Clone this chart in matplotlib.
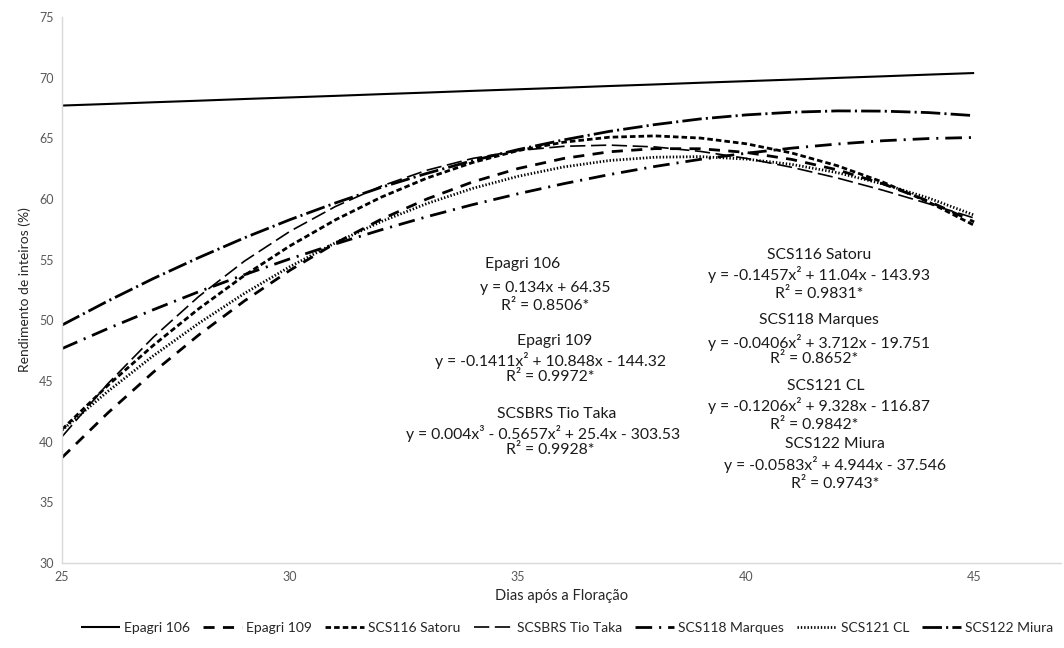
import numpy as np
import matplotlib
matplotlib.use("Agg")
import matplotlib.pyplot as plt

plt.rcParams['font.family'] = ['Lato', 'DejaVu Sans']
plt.rcParams['lines.scale_dashes'] = False

# dias após a floração
dias = [25, 26, 27, 28, 29, 30, 31, 32, 33, 34, 35,
        36, 37, 38, 39, 40, 41, 42, 43, 44, 45]

# rendimento de inteiros (%)
epagri106 = [67.70, 67.83, 67.97, 68.10, 68.24, 68.37, 68.50, 68.64, 68.77, 68.91, 69.04,
             69.17, 69.31, 69.44, 69.58, 69.71, 69.84, 69.98, 70.11, 70.25, 70.38]
epagri109 = [38.69, 42.35, 45.72, 48.80, 51.60, 54.13, 56.37, 58.33, 60.00, 61.40, 62.51,
             63.34, 63.89, 64.15, 64.14, 63.84, 63.26, 62.40, 61.25, 59.82, 58.11]
satoru = [41.01, 44.62, 47.93, 50.96, 53.70, 56.14, 58.29, 60.15, 61.72, 63.00, 63.99,
          64.68, 65.09, 65.20, 65.02, 64.55, 63.79, 62.74, 61.39, 59.75, 57.83]
tiotaka = [40.41, 44.76, 48.60, 51.97, 54.88, 57.34, 59.39, 61.06, 62.37, 63.34, 63.99,
           64.34, 64.44, 64.29, 63.92, 63.35, 62.61, 61.73, 60.72, 59.61, 58.43]
marques = [47.67, 49.31, 50.87, 52.36, 53.76, 55.07, 56.30, 57.46, 58.54, 59.53, 60.43,
           61.26, 62.01, 62.68, 63.27, 63.77, 64.19, 64.53, 64.80, 64.98, 65.07]
cl = [40.95, 44.13, 47.07, 49.76, 52.22, 54.43, 56.40, 58.14, 59.62, 60.87, 61.87,
      62.64, 63.17, 63.44, 63.49, 63.29, 62.85, 62.17, 61.24, 60.08, 58.67]
miura = [49.61, 51.58, 53.44, 55.17, 56.80, 58.30, 59.68, 60.96, 62.11, 63.16, 64.07,
         64.87, 65.57, 66.13, 66.60, 66.93, 67.15, 67.26, 67.24, 67.12, 66.87]

nomes = ['Epagri 106', 'Epagri 109', 'SCS116 Satoru', 'SCSBRS Tio Taka',
         'SCS118 Marques', 'SCS121 CL', 'SCS122 Miura']
series = [epagri106, epagri109, satoru, tiotaka, marques, cl, miura]

# estilos de linha
estilos = [
    dict(linestyle='-', lw=1.5),
    dict(dashes=(8, 6), lw=2.0),
    dict(dashes=(4, 2.2), lw=2.0),
    dict(dashes=(11, 4), lw=1.2),
    dict(dashes=(12, 5, 1.5, 5), lw=2.0),
    dict(dashes=(1, 1.4), lw=2.0),
    dict(dashes=(14, 3, 1.5, 3), lw=2.0),
]

# equações (texto, x em dias, y em %)
textos_esq = [
    ('Epagri 106', 35.1, 54.6),
    ('y = 0.134x + 64.35', 35.6, 52.7),
    ('R² = 0.8506*', 35.6, 51.2),
    ('Epagri 109', 35.8, 48.3),
    ('y = -0.1411x² + 10.848x - 144.32', 35.7, 46.7),
    ('R² = 0.9972*', 35.7, 45.3),
    ('SCSBRS Tio Taka', 35.85, 42.3),
    ('y = 0.004x³ - 0.5657x² + 25.4x - 303.53', 35.55, 40.7),
    ('R² = 0.9928*', 35.7, 39.3),
]
textos_dir = [
    ('SCS116 Satoru', 41.6, 55.4),
    ('y = -0.1457x² + 11.04x - 143.93', 41.6, 53.8),
    ('R² = 0.9831*', 41.6, 52.2),
    ('SCS118 Marques', 41.6, 50.0),
    ('y = -0.0406x² + 3.712x - 19.751', 41.6, 48.2),
    ('R² = 0.8652*', 41.5, 46.8),
    ('SCS121 CL', 41.75, 44.6),
    ('y = -0.1206x² + 9.328x - 116.87', 41.6, 43.0),
    ('R² = 0.9842*', 41.5, 41.4),
    ('SCS122 Miura', 41.95, 39.8),
    ('y = -0.0583x² + 4.944x - 37.546', 41.95, 38.1),
    ('R² = 0.9743*', 41.95, 36.5),
]

fig = plt.figure(figsize=(10.64, 6.48), dpi=100)
ax = fig.add_axes([0.0583, 0.1312, 0.9387, 0.8426])

for nome, ys, est in zip(nomes, series, estilos):
    ax.plot(dias, ys, color='black', label=nome, solid_capstyle='butt',
            dash_capstyle='butt', **est)

for txt, xx, yy in textos_esq + textos_dir:
    ax.text(xx, yy, txt, ha='center', va='center', fontsize=11.3, color='#1a1a1a')

ax.set_xlim(25, 46.9)
ax.set_ylim(30, 75)
ax.set_xticks([25, 30, 35, 40, 45])
ax.set_yticks(np.arange(30, 76, 5))
ax.tick_params(length=0, labelsize=9, colors='#595959', pad=6)
for s in ['top', 'right']:
    ax.spines[s].set_visible(False)
for s in ['left', 'bottom']:
    ax.spines[s].set_color('#d9d9d9')
    ax.spines[s].set_linewidth(1.0)

ax.set_xlabel('Dias após a Floração', fontsize=10.5, color='#262626', labelpad=4)
ax.set_ylabel('Rendimento de inteiros (%)', fontsize=10, color='#262626', labelpad=6)

fig.legend(loc='center', bbox_to_anchor=(0.533, 0.031), ncol=7, frameon=False,
           fontsize=10, handlelength=2.8, handletextpad=0.3, columnspacing=0.95,
           labelcolor='#262626')

fig.savefig('out.png', dpi=100)
